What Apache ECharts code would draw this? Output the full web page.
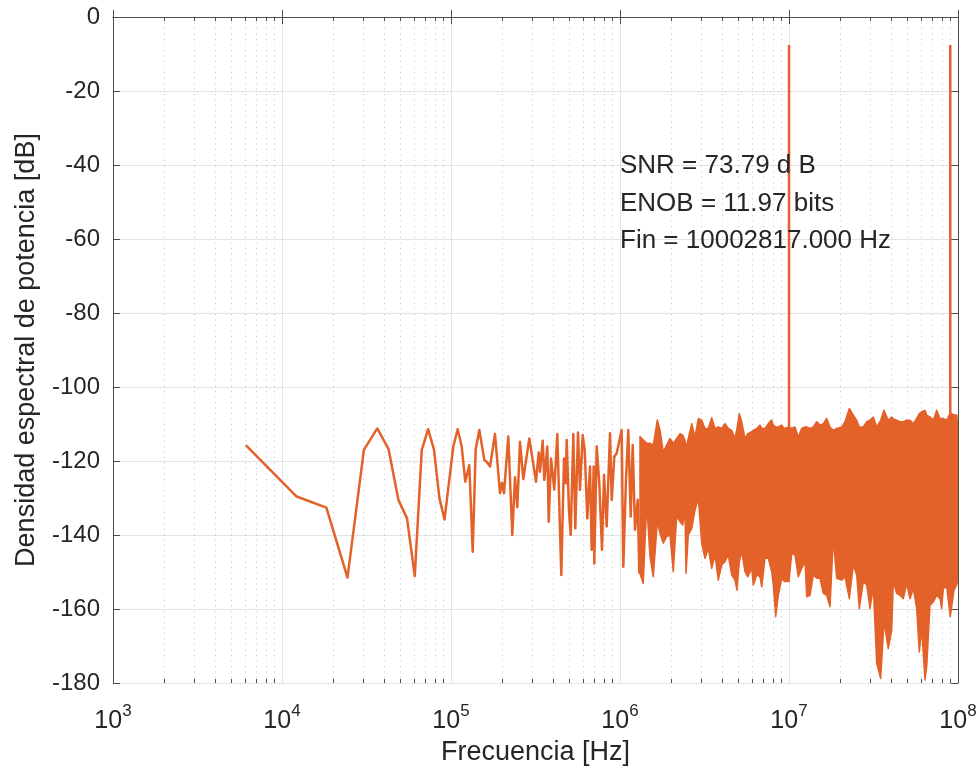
<!DOCTYPE html>
<html><head><meta charset="utf-8">
<script src="https://cdn.jsdelivr.net/npm/echarts@6/dist/echarts.min.js"></script>
<style>html,body{margin:0;padding:0;background:#fff}#c{width:980px;height:774px}</style>
</head><body><div id="c"></div>
<script>
// ---- data ----
// sparse low-frequency part of the spectrum (frequency in kHz, level in dB)
const lowFreqKHz = [6.104,12.21,18.31,24.41,30.52,36.62,42.72,48.83,54.93,61.04,67.14,73.24,79.35,85.45,91.55,
  103.2,109.5,115.7,121.5,128.3,134.4,140.0,147.1,157.4,162.6,170.2,182.1,195.0,200.4,205.9,218.3,230.5,239.2,246.8,256.0,
  267.8,290.7,318.4,330.3,336.3,348.9,356.6,371.4,378.5,390.6,408.5,425.6,435.6,449.4,466.3,477.3,483.8,499.2,510.9,529.3,
  543.9,564.3,579.9,601.6,618.2,640.5,664.5,680.0,698.8,704.5,727.9,754.2,782.5,804.1,834.2,872.6,893.1,925.4,956.2,
  1023,1046,1085,1120,1157,1189,1227,1273,1301];
const lowDb = [-115.7,-129.6,-132.6,-151.5,-117,-111.2,-116.8,-130.5,-135.5,-151.1,-117,-111.4,-117,-130.1,-135.8,
  -116.1,-111.4,-116.1,-125.6,-121.1,-144.5,-116.8,-111.6,-119.7,-120.2,-121.5,-112.7,-128.7,-125.9,-128.7,-113.4,-140,-124.4,-132.5,-114.8,
  -124.9,-113.9,-125.6,-117.7,-122.9,-114.5,-125.1,-116.1,-136.4,-119.3,-127.7,-112.7,-112.7,-150.8,-119.3,-126,-114.3,-133.7,-140,-112.7,
  -138.2,-112.3,-127.8,-113,-117,-135.5,-121.5,-144,-121.5,-147.7,-116.1,-126,-144,-123.8,-137.7,-112.5,-130.5,-118.8,-117.9,
  -111.6,-148.6,-125.1,-111.6,-135,-115.7,-138.6,-130.5,-150.4];

// dense high-frequency part: frequency (MHz), upper and lower edge of the noise band (dB)
const bandFreqMHz = [1.313,1.373,1.439,1.504,1.574,1.663,1.724,1.804,1.889,1.976,2.067,2.165,2.265,2.350,2.425,2.458,2.536,2.657,2.779,2.907,
  3.045,3.184,3.330,3.488,3.648,3.816,3.997,4.181,4.373,4.580,4.791,4.923,5.080,5.250,5.491,5.697,6.016,6.149,6.441,6.737,
  6.895,7.211,7.542,7.899,8.074,8.343,8.645,9.054,9.381,10.0,10.37,10.85,11.35,11.89,12.44,12.73,13.31,13.93,14.58,15.26,
  15.96,16.71,17.48,18.29,19.15,20.50,21.45,22.75,24.03,25.15,26.06,27.52,28.83,30.16,31.54,33.03,34.87,36.48,38.68,40.52,
  41.41,43.38,45.38,47.47,49.71,52.00,54.39,56.97,59.02,60.98,63.78,65.28,68.29,71.42,74.81,78.25,80.09,81.85,85.75,90.0,
  94.69,98.24,100];
const bandHighDb = [-113.4,-114.3,-115.2,-115.2,-115.7,-108.9,-111.6,-117.5,-115.7,-113.9,-115.2,-113.9,-112.6,-113,-114.4,-116.6,-113.9,-109.9,-113.5,-108.5,
  -109,-111.2,-111.2,-108.3,-111.2,-110.8,-111.2,-109.9,-111.2,-111.7,-113.9,-111.2,-107.2,-109.4,-113.9,-112.6,-112.1,-111.7,-111.2,-110.3,
  -111.2,-111.2,-109.9,-108.9,-110.3,-110.8,-110.8,-110.3,-111.2,-110.8,-111.2,-110.8,-113.5,-111.2,-110.8,-110.8,-111.2,-110.8,-109.4,-110.3,
  -109.9,-108.5,-110.8,-111.7,-111.2,-110.8,-109.4,-105.8,-107.6,-109,-110.8,-110.8,-109.4,-109,-108.1,-110.8,-109,-106.3,-109,-108.1,
  -108.6,-109,-109.4,-109.4,-109,-109,-109.9,-108.5,-107.2,-106.7,-106.3,-107.6,-108.1,-109,-106.3,-108.5,-108.5,-108.5,-109,-107,
  -107.6,-107.6,-111.2];
const bandLowDb = [-150.4,-153.1,-131.4,-145.8,-151.3,-136.4,-139.5,-142.2,-140.4,-140,-149.9,-135,-136.4,-137.3,-133.7,-150.4,-140,-138.2,-133.3,-130.1,
  -142.3,-146.3,-143.6,-149,-145.4,-152.2,-148.1,-147.2,-145.4,-150.8,-152.2,-154.9,-147.2,-144.5,-149.9,-151.3,-149,-153.5,-150.8,-151.3,
  -154,-146.3,-146.3,-149.9,-153.5,-162.1,-156.3,-151.7,-152.6,-152.6,-145,-145.4,-151.3,-149,-147.2,-156.7,-156.3,-150.8,-151.7,-151.7,
  -155.8,-156.3,-159.4,-140.9,-151.7,-152.2,-151.3,-157.2,-148.1,-150.8,-159.9,-152.6,-153.5,-159.9,-154,-174.7,-178.8,-163.5,-170.7,-165.7,
  -152.6,-155.8,-156.3,-157.2,-153.1,-157.2,-154.5,-159.9,-171.6,-165.3,-179.2,-175.6,-159,-158.1,-156.3,-157.2,-159.9,-154.5,-154,-162.1,
  -154.9,-153.5,-151.7];

// narrow tones
const spikeFreqHz = [10002817, 90025000];
const spikeBaseDb = [-128, -128];
const spikePeakDb = [-7.6, -7.6];

// axes
const xMinHz = 1e3, xMaxHz = 1e8;
const yMin = -180, yMax = 0, yStep = 20;
const minorMultipliers = [2,3,4,5,6,7,8,9];
const decadesHz = [1e3,1e4,1e5,1e6,1e7];

const noteLines = ['SNR = 73.79 d B', 'ENOB = 11.97 bits', 'Fin = 10002817.000 Hz'];
const xTitle = 'Frecuencia [Hz]';
const yTitle = 'Densidad espectral de potencia [dB]';

// ---- build ----
const FONT = "'Liberation Sans', Arial, Helvetica, sans-serif";
const ORANGE = '#E3622A';
const AXIS = '#4d4d4d';
const TXT = '#262626';

const lowData = lowFreqKHz.map((f, i) => [f * 1e3, lowDb[i]]);
const minorTicks = [];
decadesHz.forEach(d => minorMultipliers.forEach(m => minorTicks.push([d * m, -90])));

const chart = echarts.init(document.getElementById('c'), null, {renderer: 'canvas'});

const baseX = {
  type: 'log', logBase: 10, min: xMinHz, max: xMaxHz,
  axisLine: {show: true, lineStyle: {color: AXIS, width: 1}},
  axisTick: {show: true, inside: true, length: 7, lineStyle: {color: AXIS}},
  splitLine: {show: false},
  minorTick: {show: false}
};
const baseY = {
  type: 'value', min: yMin, max: yMax, interval: yStep,
  axisLine: {show: true, onZero: false, lineStyle: {color: AXIS, width: 1}},
  axisTick: {show: true, inside: true, length: 7, lineStyle: {color: AXIS}},
  splitLine: {show: false}
};

chart.setOption({
  animation: false,
  backgroundColor: '#fff',
  grid: {left: 113, right: 22, top: 17, bottom: 91, containLabel: false},
  xAxis: [
    Object.assign({}, baseX, {
      position: 'bottom',
      splitLine: {show: true, lineStyle: {color: '#e3e3e3', width: 1}},
      axisLabel: {
        margin: 20, color: TXT, fontFamily: FONT,
        formatter: v => '{b|10}{s|' + Math.round(Math.log10(v)) + '}',
        rich: {
          b: {fontSize: 25, lineHeight: 31, color: TXT, fontFamily: FONT, verticalAlign: 'bottom'},
          s: {fontSize: 17, lineHeight: 17, color: TXT, fontFamily: FONT, verticalAlign: 'top'}
        }
      },
      name: xTitle, nameLocation: 'middle', nameGap: 56,
      nameTextStyle: {fontSize: 27, color: TXT, fontFamily: FONT}
    }),
    Object.assign({}, baseX, {position: 'top', axisLabel: {show: false}})
  ],
  yAxis: [
    Object.assign({}, baseY, {
      position: 'left',
      splitLine: {show: true, lineStyle: {color: '#e3e3e3', width: 1}},
      axisLabel: {margin: 13, fontSize: 24, color: TXT, fontFamily: FONT},
      name: yTitle, nameLocation: 'middle', nameGap: 73, nameRotate: 90,
      nameTextStyle: {fontSize: 27, color: TXT, fontFamily: FONT}
    }),
    Object.assign({}, baseY, {position: 'right', axisLabel: {show: false}})
  ],
  series: [
    {
      type: 'custom', name: 'minor', z: 1, silent: true,
      data: minorTicks, encode: {x: 0, y: 1},
      renderItem(params, api) {
        const cs = params.coordSys;
        const x = Math.round(api.coord([api.value(0), -90])[0]) + 0.5;
        const top = cs.y, bot = cs.y + cs.height;
        return {type: 'group', children: [
          {type: 'line', shape: {x1: x, y1: top, x2: x, y2: bot}, style: {stroke: '#c4c4c4', lineWidth: 1, lineDash: [1, 4.5]}},
          {type: 'line', shape: {x1: x, y1: bot, x2: x, y2: bot - 4}, style: {stroke: AXIS, lineWidth: 1}},
          {type: 'line', shape: {x1: x, y1: top, x2: x, y2: top + 4}, style: {stroke: AXIS, lineWidth: 1}}
        ]};
      }
    },
    {
      type: 'line', name: 'low', z: 3, data: lowData, showSymbol: false, symbol: 'none',
      lineStyle: {color: ORANGE, width: 2.5, join: 'round'}, itemStyle: {color: ORANGE}
    },
    {
      type: 'custom', name: 'band', z: 3, clip: true,
      data: [[bandFreqMHz[0] * 1e6, bandHighDb[0]]], encode: {x: 0, y: 1},
      renderItem(params, api) {
        const pts = [];
        for (let i = 0; i < bandFreqMHz.length; i++) pts.push(api.coord([bandFreqMHz[i] * 1e6, bandHighDb[i]]));
        for (let i = bandFreqMHz.length - 1; i >= 0; i--) pts.push(api.coord([bandFreqMHz[i] * 1e6, bandLowDb[i]]));
        return {type: 'polygon', shape: {points: pts},
          style: {fill: ORANGE, stroke: ORANGE, lineWidth: 1.5, lineJoin: 'round'}};
      }
    },
    {
      type: 'custom', name: 'spikes', z: 4, clip: true,
      data: spikeFreqHz.map((f, i) => [f, spikeBaseDb[i], spikePeakDb[i]]), encode: {x: 0, y: [1, 2]},
      renderItem(params, api) {
        const a = api.coord([api.value(0), api.value(1)]);
        const b = api.coord([api.value(0), api.value(2)]);
        return {type: 'line', shape: {x1: a[0], y1: a[1], x2: b[0], y2: b[1]},
          style: {stroke: ORANGE, lineWidth: 2.5, lineCap: 'butt'}};
      }
    },
    {
      type: 'custom', name: 'note', z: 5, silent: true,
      data: [[1e6, -50]], encode: {x: 0, y: 1},
      renderItem(params, api) {
        const ys = [-40.3, -50.4, -60.5];
        return {type: 'group', children: noteLines.map((t, i) => {
          const p = api.coord([api.value(0), ys[i]]);
          return {type: 'text', x: p[0], y: p[1],
            style: {text: t, fill: TXT, font: '26px ' + FONT, align: 'left', verticalAlign: 'middle'}};
        })};
      }
    }
  ]
});
</script>
</body></html>
